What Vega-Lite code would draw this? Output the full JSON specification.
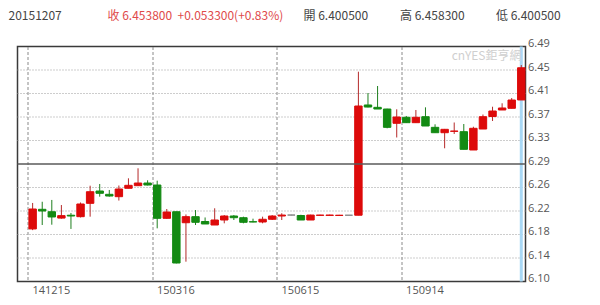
{
  "$schema": "https://vega.github.io/schema/vega-lite/v6.json",
  "width": 508,
  "height": 235,
  "autosize": {"type": "none"},
  "padding": {"left": 17.5, "top": 46.5, "right": 74.5, "bottom": 23.5},
  "background": "white",
  "config": {
    "view": {"stroke": "#3a3a3a", "strokeWidth": 1.5},
    "font": "Open Sans",
    "axis": {"domain": false, "ticks": false, "title": null, "labelOverlap": false, "labelFlush": false, "labelFontSize": 11, "labelColor": "#555555"},
    "axisX": {"grid": true, "gridDash": [3, 2], "gridColor": "#8a8a8a", "gridWidth": 1, "labelAngle": 0, "labelAlign": "left", "labelBaseline": "top", "labelPadding": 3},
    "axisY": {"grid": false, "labelAlign": "left", "labelBaseline": "alphabetic", "labelPadding": 2}
  },
  "datasets": {
    "candles": [
      {"date": "20141215", "open": 6.187, "high": 6.230, "low": 6.185, "close": 6.220},
      {"date": "20141222", "open": 6.2195, "high": 6.232, "low": 6.1935, "close": 6.2167},
      {"date": "20141229", "open": 6.2155, "high": 6.235, "low": 6.194, "close": 6.2068},
      {"date": "20150105", "open": 6.205, "high": 6.2266, "low": 6.204, "close": 6.209},
      {"date": "20150112", "open": 6.2097, "high": 6.2134, "low": 6.187, "close": 6.2084},
      {"date": "20150119", "open": 6.2073, "high": 6.2308, "low": 6.206, "close": 6.2283},
      {"date": "20150126", "open": 6.2294, "high": 6.2586, "low": 6.2073, "close": 6.2486},
      {"date": "20150202", "open": 6.2498, "high": 6.2614, "low": 6.2404, "close": 6.246},
      {"date": "20150209", "open": 6.2443, "high": 6.2515, "low": 6.2404, "close": 6.2415},
      {"date": "20150216", "open": 6.2404, "high": 6.2589, "low": 6.234, "close": 6.2531},
      {"date": "20150223", "open": 6.2543, "high": 6.2708, "low": 6.2543, "close": 6.2592},
      {"date": "20150302", "open": 6.2586, "high": 6.2874, "low": 6.2586, "close": 6.263},
      {"date": "20150309", "open": 6.263, "high": 6.2675, "low": 6.259, "close": 6.2597},
      {"date": "20150316", "open": 6.2597, "high": 6.2669, "low": 6.188, "close": 6.2046},
      {"date": "20150323", "open": 6.2046, "high": 6.22, "low": 6.204, "close": 6.215},
      {"date": "20150330", "open": 6.2155, "high": 6.2155, "low": 6.130, "close": 6.1306},
      {"date": "20150406", "open": 6.1973, "high": 6.211, "low": 6.1328, "close": 6.2073},
      {"date": "20150413", "open": 6.2073, "high": 6.2183, "low": 6.1935, "close": 6.198},
      {"date": "20150420", "open": 6.1993, "high": 6.206, "low": 6.1952, "close": 6.1952},
      {"date": "20150427", "open": 6.1935, "high": 6.2212, "low": 6.1935, "close": 6.2018},
      {"date": "20150504", "open": 6.2018, "high": 6.21, "low": 6.1963, "close": 6.2084},
      {"date": "20150511", "open": 6.2084, "high": 6.21, "low": 6.2018, "close": 6.2056},
      {"date": "20150518", "open": 6.2056, "high": 6.2073, "low": 6.1963, "close": 6.198},
      {"date": "20150525", "open": 6.199, "high": 6.204, "low": 6.198, "close": 6.1985},
      {"date": "20150601", "open": 6.1985, "high": 6.2073, "low": 6.1963, "close": 6.203},
      {"date": "20150608", "open": 6.203, "high": 6.21, "low": 6.2018, "close": 6.2084},
      {"date": "20150615", "open": 6.2084, "high": 6.213, "low": 6.2018, "close": 6.21},
      {"date": "20150622", "open": 6.21, "high": 6.2105, "low": 6.2095, "close": 6.21},
      {"date": "20150629", "open": 6.2092, "high": 6.2105, "low": 6.2018, "close": 6.2018},
      {"date": "20150706", "open": 6.2018, "high": 6.2105, "low": 6.2018, "close": 6.21},
      {"date": "20150713", "open": 6.2095, "high": 6.2105, "low": 6.2093, "close": 6.2099},
      {"date": "20150720", "open": 6.2094, "high": 6.2106, "low": 6.2092, "close": 6.21},
      {"date": "20150727", "open": 6.2093, "high": 6.2103, "low": 6.209, "close": 6.2097},
      {"date": "20150803", "open": 6.2097, "high": 6.2099, "low": 6.2095, "close": 6.2097},
      {"date": "20150810", "open": 6.2097, "high": 6.4473, "low": 6.2097, "close": 6.3905},
      {"date": "20150817", "open": 6.3922, "high": 6.412, "low": 6.3883, "close": 6.3888},
      {"date": "20150824", "open": 6.3883, "high": 6.4236, "low": 6.3855, "close": 6.3855},
      {"date": "20150831", "open": 6.3855, "high": 6.386, "low": 6.3536, "close": 6.3552},
      {"date": "20150907", "open": 6.3619, "high": 6.385, "low": 6.3384, "close": 6.3723},
      {"date": "20150914", "open": 6.3718, "high": 6.374, "low": 6.3624, "close": 6.3629},
      {"date": "20150921", "open": 6.3629, "high": 6.3839, "low": 6.3624, "close": 6.3718},
      {"date": "20150928", "open": 6.3728, "high": 6.3883, "low": 6.3574, "close": 6.3574},
      {"date": "20151005", "open": 6.3552, "high": 6.3602, "low": 6.3463, "close": 6.3463},
      {"date": "20151012", "open": 6.3463, "high": 6.3525, "low": 6.3205, "close": 6.3519},
      {"date": "20151019", "open": 6.3486, "high": 6.3632, "low": 6.3442, "close": 6.349},
      {"date": "20151026", "open": 6.348, "high": 6.3607, "low": 6.3188, "close": 6.3188},
      {"date": "20151102", "open": 6.3177, "high": 6.3562, "low": 6.3177, "close": 6.3536},
      {"date": "20151109", "open": 6.3524, "high": 6.3764, "low": 6.3524, "close": 6.3728},
      {"date": "20151116", "open": 6.3731, "high": 6.3893, "low": 6.3657, "close": 6.3822},
      {"date": "20151123", "open": 6.3839, "high": 6.395, "low": 6.3839, "close": 6.3872},
      {"date": "20151130", "open": 6.3867, "high": 6.4037, "low": 6.3865, "close": 6.4004},
      {"date": "20151207", "open": 6.4005, "high": 6.4583, "low": 6.4005, "close": 6.4538}
    ],
    "levels": [
      {"level": 6.1389}, {"level": 6.1778}, {"level": 6.2167}, {"level": 6.2556},
      {"level": 6.3334}, {"level": 6.3723}, {"level": 6.4112}, {"level": 6.4501}
    ]
  },
  "layer": [
    {
      "data": {"name": "levels"},
      "mark": {"type": "rule", "stroke": "#9a9a9a", "strokeWidth": 1, "strokeDash": [1, 2]},
      "encoding": {
        "y": {
          "field": "level",
          "type": "quantitative",
          "axis": {
            "orient": "right",
            "values": [6.1, 6.1389, 6.1778, 6.2167, 6.2556, 6.2945, 6.3334, 6.3723, 6.4112, 6.4501, 6.489],
            "format": ".2f"
          }
        }
      }
    },
    {
      "data": {"name": "candles"},
      "transform": [{"filter": "datum.date == '20151207'"}],
      "mark": {"type": "rule", "stroke": "#a9d8f5", "strokeWidth": 3},
      "encoding": {
        "x": {
          "field": "date",
          "type": "ordinal",
          "scale": {"paddingInner": 0.12, "paddingOuter": 0.57, "align": 1},
          "axis": {
            "values": ["20141215", "20150316", "20150615", "20150914"],
            "labelExpr": "slice(datum.value, 2)",
            "bandPosition": 0,
            "tickOffset": -0.7
          }
        }
      }
    },
    {
      "data": {"name": "candles"},
      "mark": {"type": "rule", "strokeWidth": 1},
      "encoding": {
        "x": {
          "field": "date",
          "type": "ordinal",
          "axis": {
            "values": ["20141215", "20150316", "20150615", "20150914"],
            "labelExpr": "slice(datum.value, 2)",
            "bandPosition": 0,
            "tickOffset": -0.7
          }
        },
        "y": {
          "field": "low",
          "type": "quantitative",
          "scale": {"domain": [6.1, 6.489], "nice": false, "zero": false},
          "axis": {
            "orient": "right",
            "values": [6.1, 6.1389, 6.1778, 6.2167, 6.2556, 6.2945, 6.3334, 6.3723, 6.4112, 6.4501, 6.489],
            "format": ".2f"
          }
        },
        "y2": {"field": "high"},
        "color": {
          "condition": [
            {"test": "datum.close > datum.open", "value": "#b52a2a"},
            {"test": "datum.close < datum.open", "value": "#1f7f1f"}
          ],
          "value": "#888888"
        }
      }
    },
    {
      "data": {"name": "candles"},
      "mark": {"type": "bar", "strokeWidth": 1, "width": {"band": 0.88}},
      "encoding": {
        "x": {
          "field": "date",
          "type": "ordinal",
          "axis": {
            "values": ["20141215", "20150316", "20150615", "20150914"],
            "labelExpr": "slice(datum.value, 2)",
            "bandPosition": 0,
            "tickOffset": -0.7
          }
        },
        "y": {
          "field": "open",
          "type": "quantitative",
          "axis": {
            "orient": "right",
            "values": [6.1, 6.1389, 6.1778, 6.2167, 6.2556, 6.2945, 6.3334, 6.3723, 6.4112, 6.4501, 6.489],
            "format": ".2f"
          }
        },
        "y2": {"field": "close"},
        "fill": {
          "condition": [
            {"test": "datum.close > datum.open", "value": "#dd0a0a"},
            {"test": "datum.close < datum.open", "value": "#138a13"}
          ],
          "value": "#888888"
        },
        "stroke": {
          "condition": [
            {"test": "datum.close > datum.open", "value": "#dd0a0a"},
            {"test": "datum.close < datum.open", "value": "#138a13"}
          ],
          "value": "#888888"
        }
      }
    },
    {
      "data": {"values": [{"level": 6.2945}]},
      "mark": {"type": "rule", "stroke": "#5a5a5a", "strokeWidth": 1.3},
      "encoding": {
        "y": {
          "field": "level",
          "type": "quantitative",
          "axis": {
            "orient": "right",
            "values": [6.1, 6.1389, 6.1778, 6.2167, 6.2556, 6.2945, 6.3334, 6.3723, 6.4112, 6.4501, 6.489],
            "format": ".2f"
          }
        }
      }
    },
    {
      "data": {"values": [{"mark": "cnYES鉅亨網"}]},
      "mark": {"type": "text", "align": "right", "baseline": "middle", "font": "Noto Sans CJK TC", "fontSize": 12, "color": "#cfcfcf"},
      "encoding": {"text": {"field": "mark"}, "x": {"value": 504}, "y": {"value": 9.5}}
    },
    {
      "data": {"values": [{"label": "20151207"}]},
      "mark": {"type": "text", "align": "left", "baseline": "middle", "font": "Noto Sans CJK TC", "fontSize": 12, "color": "#444444"},
      "encoding": {"text": {"field": "label"}, "x": {"value": -9}, "y": {"value": -31}}
    },
    {
      "data": {"values": [{"label": "收 6.453800"}]},
      "mark": {"type": "text", "align": "left", "baseline": "middle", "font": "Noto Sans CJK TC", "fontSize": 12, "color": "#e04a4a"},
      "encoding": {"text": {"field": "label"}, "x": {"value": 90}, "y": {"value": -31}}
    },
    {
      "data": {"values": [{"label": "+0.053300(+0.83%)"}]},
      "mark": {"type": "text", "align": "left", "baseline": "middle", "font": "Noto Sans CJK TC", "fontSize": 12, "color": "#e04a4a"},
      "encoding": {"text": {"field": "label"}, "x": {"value": 160}, "y": {"value": -31}}
    },
    {
      "data": {"values": [{"label": "開 6.400500"}]},
      "mark": {"type": "text", "align": "left", "baseline": "middle", "font": "Noto Sans CJK TC", "fontSize": 12, "color": "#444444"},
      "encoding": {"text": {"field": "label"}, "x": {"value": 286}, "y": {"value": -31}}
    },
    {
      "data": {"values": [{"label": "高 6.458300"}]},
      "mark": {"type": "text", "align": "left", "baseline": "middle", "font": "Noto Sans CJK TC", "fontSize": 12, "color": "#444444"},
      "encoding": {"text": {"field": "label"}, "x": {"value": 382.5}, "y": {"value": -31}}
    },
    {
      "data": {"values": [{"label": "低 6.400500"}]},
      "mark": {"type": "text", "align": "left", "baseline": "middle", "font": "Noto Sans CJK TC", "fontSize": 12, "color": "#444444"},
      "encoding": {"text": {"field": "label"}, "x": {"value": 478.5}, "y": {"value": -31}}
    }
  ]
}
